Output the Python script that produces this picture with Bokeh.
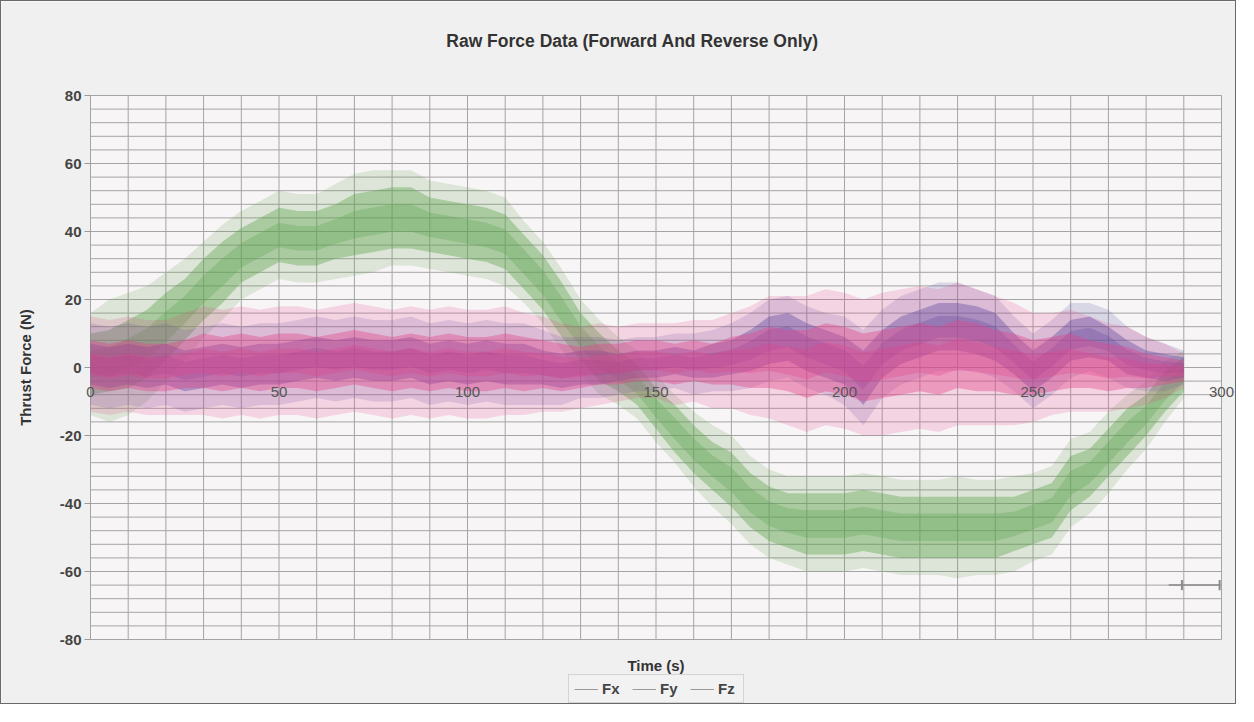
import numpy as np
from bokeh.plotting import figure
from bokeh.models import Legend, LegendItem, Range1d
from bokeh.embed import file_html
from bokeh.resources import INLINE
from bokeh.core.properties import value

# ---------------- data (5 s steps) ----------------
T = [0, 5, 10, 15, 20, 25, 30, 35, 40, 45, 50, 55, 60, 65, 70, 75, 80, 85, 90, 95,
     100, 105, 110, 115, 120, 125, 130, 135, 140, 145, 150, 155, 160, 165, 170, 175,
     180, 185, 190, 195, 200, 205, 210, 215, 220, 225, 230, 235, 240, 245, 250, 255,
     260, 265, 270, 275, 280, 285, 290]

# Fz (green) : centre of the noisy trace, core half-width, spike half-width
FZ_MID = [1, 2, 4, 7, 12, 17, 23, 28, 33, 36, 39, 38, 38, 40, 42, 43, 44, 44, 42, 41,
          40, 39, 37, 31, 25, 17, 9, 3, -1, -5, -12, -18, -24, -29, -33, -39, -43, -45,
          -46, -46, -46, -45, -46, -47, -47, -47, -47, -47, -47, -46, -44, -42, -34, -31,
          -25, -19, -14, -7, -2]
FZ_CORE = [9, 9, 10, 10, 10, 9, 9, 9, 8, 8, 8, 8, 8, 8, 9, 9, 9, 9, 8, 8,
           8, 8, 8, 8, 8, 8, 7, 7, 6, 6, 6, 7, 7, 7, 8, 8, 8, 8, 9, 9,
           9, 9, 9, 9, 9, 9, 9, 9, 9, 8, 8, 8, 8, 7, 7, 7, 6, 6, 5]
FZ_SPIKE = [15, 18, 18, 17, 16, 15, 14, 14, 13, 13, 13, 13, 13, 14, 15, 15, 14, 14, 13, 13,
            13, 13, 13, 12, 12, 12, 11, 11, 10, 10, 10, 10, 11, 12, 13, 13, 13, 13, 14, 14,
            14, 14, 14, 14, 14, 14, 15, 14, 14, 14, 13, 13, 13, 12, 12, 11, 10, 9, 7]

# Fx (blue)
FX_MID = [1, 0, 1, 0, 1, -1, 0, 1, 0, 1, 1, 2, 3, 2, 3, 2, 2, 3, 1, 2,
          1, 2, 1, 1, 0, -1, 0, 0, 0, 1, 1, 2, 1, 2, 3, 5, 8, 9, 6, 4,
          2, -3, 4, 8, 10, 12, 12, 11, 9, 4, -1, 3, 8, 9, 7, 3, 1, 0, 0]
FX_CORE = [6, 6, 6, 6, 6, 6, 6, 6, 6, 6, 6, 6, 6, 6, 6, 6, 6, 6, 6, 6,
           6, 6, 6, 6, 5, 5, 5, 5, 4, 4, 4, 4, 4, 5, 5, 6, 7, 7, 7, 7,
           7, 8, 7, 7, 7, 7, 7, 7, 7, 6, 6, 6, 6, 6, 5, 5, 4, 4, 3]
FX_SPIKE = [12, 12, 12, 12, 12, 12, 12, 12, 12, 12, 12, 12, 12, 12, 12, 12, 12, 12, 12, 12,
            12, 12, 12, 12, 11, 10, 9, 9, 8, 8, 8, 8, 9, 9, 10, 11, 12, 12, 12, 12,
            13, 14, 13, 13, 13, 13, 13, 12, 12, 11, 11, 11, 11, 10, 10, 9, 8, 7, 5]

# Fy (pink)
FY_MID = [1, 0, 1, 0, 0, 1, 2, 1, 2, 1, 2, 2, 1, 2, 3, 2, 1, 2, 1, 2,
          1, 1, 2, 1, 1, 0, 0, 1, 1, 2, 2, 1, 2, 1, 2, 2, 3, 2, 1, 3,
          2, 0, 1, 2, 3, 2, 4, 3, 2, 1, 0, 1, 2, 1, 0, 0, -1, -1, -1]
FY_CORE = [7, 7, 7, 7, 7, 7, 8, 8, 8, 8, 8, 8, 8, 8, 8, 8, 8, 8, 8, 8,
           8, 8, 8, 8, 7, 7, 6, 6, 6, 6, 6, 6, 6, 6, 7, 8, 9, 9, 10, 10,
           10, 10, 10, 10, 10, 10, 10, 10, 9, 9, 8, 8, 8, 7, 7, 6, 5, 4, 3]
FY_SPIKE = [14, 14, 14, 14, 14, 15, 16, 16, 16, 16, 16, 16, 16, 16, 16, 16, 16, 16, 16, 16,
            16, 16, 16, 15, 14, 13, 12, 12, 11, 11, 11, 12, 12, 13, 14, 16, 18, 19, 20, 20,
            20, 20, 21, 21, 21, 21, 21, 20, 19, 18, 16, 15, 15, 14, 13, 12, 10, 8, 5]

# small error-bar mark near the lower right corner (x from, x to, y)
ERRBAR_X = [289.5, 299.5]
ERRBAR_Y = -64

SERIES = ["Fx", "Fy", "Fz"]
X_TICKS = [0, 50, 100, 150, 200, 250, 300]
X_LABELS = ["0", "50", "100", "150", "200", "250", "300"]
Y_TICKS = [-80, -60, -40, -20, 0, 20, 40, 60, 80]
Y_LABELS = ["-80", "-60", "-40", "-20", "0", "20", "40", "60", "80"]

TITLE = "Raw Force Data (Forward And Reverse Only)"
X_TITLE = "Time (s)"
Y_TITLE = "Thrust Force (N)"
FONT = "Liberation Sans"

# ---------------- geometry of the page ----------------
W, H = 1236, 704                 # canvas (plus 1px css border)
PX_L, PX_R = 89, 1220            # canvas px of x = 0 and x = 300
PY_T, PY_B = 94, 638             # canvas px of y = 80 and y = -80
XMIN, XMAX, YMIN, YMAX = 0, 300, -80, 80
sx = (PX_R - PX_L) / (XMAX - XMIN)
sy = (PY_B - PY_T) / (YMAX - YMIN)
x_start = XMIN - PX_L / sx
x_end = XMAX + (W - PX_R) / sx
y_end = YMAX + PY_T / sy
y_start = YMIN - (H - PY_B) / sy


def dx(px):      # canvas px -> data x
    return x_start + px / sx


def dy(py):      # canvas px -> data y
    return y_end - py / sy


p = figure(width=W, height=H, output_backend="svg", toolbar_location=None,
           x_range=Range1d(x_start, x_end), y_range=Range1d(y_start, y_end),
           x_axis_location=None, y_axis_location=None, min_border=0)
p.styles = {"border": "1px solid #6a6a6a"}
p.background_fill_color = "#f0f0f0"
p.border_fill_color = "#f0f0f0"
p.outline_line_color = None
p.xgrid.visible = False
p.ygrid.visible = False

# plot area and grid (10 s on x, 4 N on y)
p.quad(left=[XMIN], right=[XMAX], bottom=[YMIN], top=[YMAX],
       fill_color="#f8f5f6", line_color=None)
gx = list(range(XMIN, XMAX + 1, 10))
gy = list(range(YMIN, YMAX + 1, 4))
p.segment(x0=gx, y0=[YMIN] * len(gx), x1=gx, y1=[YMAX] * len(gx),
          line_color="#a4a4a4", line_width=1)
p.segment(x0=[XMIN] * len(gy), y0=gy, x1=[XMAX] * len(gy), y1=gy,
          line_color="#a4a4a4", line_width=1)
# y tick marks
p.segment(x0=[XMIN - 6 / sx] * len(Y_TICKS), y0=Y_TICKS, x1=[XMIN] * len(Y_TICKS),
          y1=Y_TICKS, line_color="#999999", line_width=1)

# ---------------- data bands ----------------
t = np.array(T, dtype=float)


def draw(mid, core, spike, color):
    mid = np.array(mid, dtype=float)
    core = np.array(core, dtype=float)
    spike = np.array(spike, dtype=float)
    p.varea(x=t, y1=mid - spike, y2=mid + spike, fill_color=color, fill_alpha=0.18)
    p.varea(x=t, y1=mid - core, y2=mid + core, fill_color=color, fill_alpha=0.40)
    p.varea(x=t, y1=mid - core * 0.45, y2=mid + core * 0.45, fill_color=color,
            fill_alpha=0.30)


draw(FZ_MID, FZ_CORE, FZ_SPIKE, "#5ea24e")
draw(FX_MID, FX_CORE, FX_SPIKE, "#4b4ba3")
draw(FY_MID, FY_CORE, FY_SPIKE, "#e3438c")

# error-bar mark
p.segment(x0=[ERRBAR_X[0] - 3.5], y0=[ERRBAR_Y], x1=[ERRBAR_X[1]], y1=[ERRBAR_Y],
          line_color="#8a8a8a", line_width=1.5)
p.segment(x0=ERRBAR_X, y0=[ERRBAR_Y - 1.5] * 2, x1=ERRBAR_X, y1=[ERRBAR_Y + 1.5] * 2,
          line_color="#8a8a8a", line_width=2)

# ---------------- texts ----------------
p.text(x=X_TICKS, y=[0] * len(X_TICKS), text=X_LABELS, text_align="center",
       text_baseline="top", y_offset=19, text_font=value(FONT),
       text_font_size="15px", text_color="#555555")
p.text(x=[XMIN] * len(Y_TICKS), y=Y_TICKS, text=Y_LABELS, text_align="right",
       text_baseline="middle", x_offset=-9, text_font=value(FONT),
       text_font_size="15px", text_font_style="bold", text_color="#444444")
p.text(x=[dx(631)], y=[dy(39)], text=[TITLE], text_align="center",
       text_baseline="middle", text_font=value(FONT), text_font_size="17.5px",
       text_font_style="bold", text_color="#333333")
p.text(x=[(XMIN + XMAX) / 2], y=[dy(664)], text=[X_TITLE], text_align="center",
       text_baseline="middle", text_font=value(FONT), text_font_size="15px",
       text_font_style="bold", text_color="#333333")
p.text(x=[dx(24)], y=[(YMIN + YMAX) / 2], text=[Y_TITLE], text_align="center",
       text_baseline="middle", angle=np.pi / 2, text_font=value(FONT),
       text_font_size="15px", text_font_style="bold", text_color="#333333")

# legend (legend keys in the original are plain grey lines)
keys = [p.line(x=[x_start - 10, x_start - 9], y=[0, 0], line_color="#9a9a9a",
               line_width=1) for _ in SERIES]
legend = Legend(items=[LegendItem(label=s, renderers=[r]) for s, r in zip(SERIES, keys)],
                orientation="horizontal", location=(567, 2),
                label_text_font=FONT, label_text_font_size="15px",
                label_text_font_style="bold", label_text_color="#444444",
                glyph_width=24, glyph_height=14, label_standoff=4, spacing=10,
                padding=5, margin=0, border_line_color="#b5b5b5",
                background_fill_color="#f2f2f2", background_fill_alpha=1.0)
p.add_layout(legend)

open("out.html", "w").write(file_html(p, INLINE))
